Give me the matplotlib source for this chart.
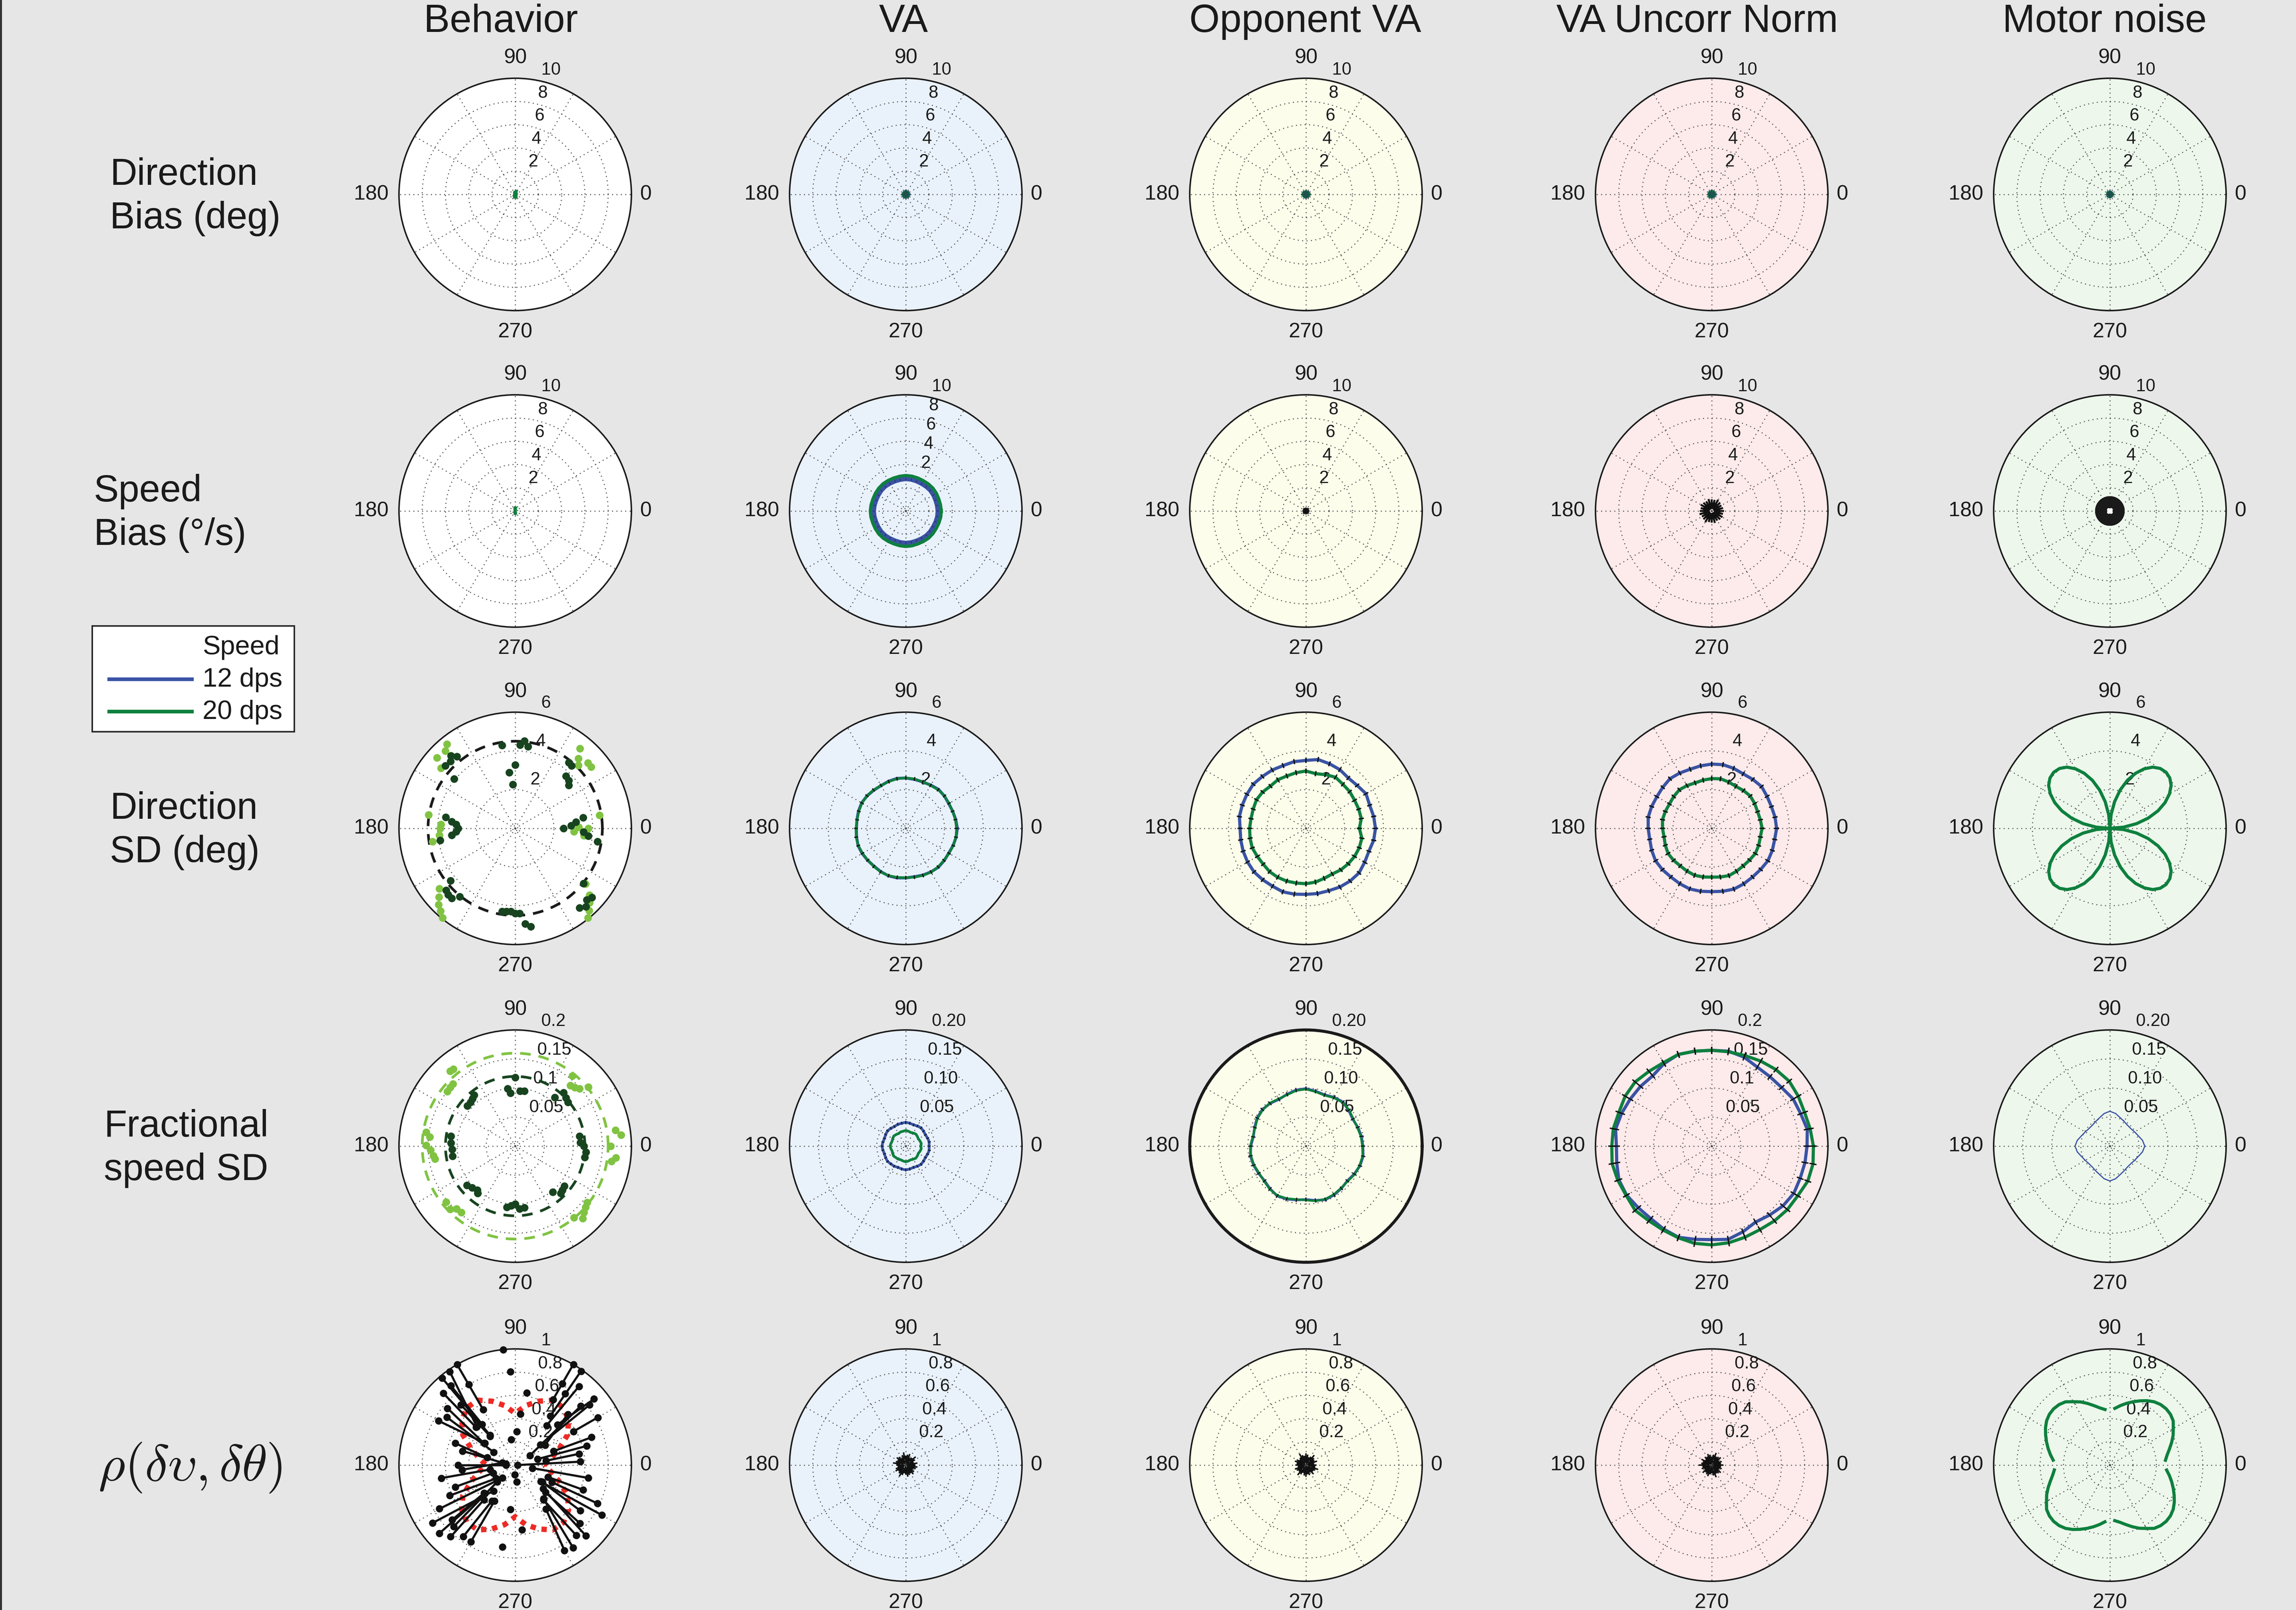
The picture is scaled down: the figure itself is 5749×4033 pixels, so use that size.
import numpy as np
import matplotlib
matplotlib.use('Agg')
import matplotlib.pyplot as plt
from matplotlib.lines import Line2D
from matplotlib.patches import Rectangle

plt.rcParams['font.family'] = ['Liberation Sans', 'DejaVu Sans']
plt.rcParams['mathtext.fontset'] = 'cm'

# ------------------------------------------------------------------ data
columns = ['Behavior', 'VA', 'Opponent VA', 'VA Uncorr Norm', 'Motor noise']
row_labels = ['Direction\nBias (deg)', 'Speed\nBias (°/s)', 'Direction\nSD (deg)',
              'Fractional\nspeed SD', r'$\rho(\delta\upsilon, \delta\theta)$']
angle_labels = ['0', '90', '180', '270']

ANG10 = list(range(0, 360, 10))
ANG8 = [0, 45, 90, 135, 180, 225, 270, 315]
ANG30 = list(range(0, 360, 30))

# Row 1 : direction bias (deg)
beh_dbias_ang = [70, 110, 250, 290]
beh_dbias_r = [0.30, 0.22, 0.28, 0.30]
va_dbias_12 = [0.22, 0.18, 0.25, 0.20, 0.17, 0.21, 0.24, 0.19]
va_dbias_20 = [0.19, 0.23, 0.20, 0.17, 0.22, 0.20, 0.18, 0.23]
opp_dbias_12 = [0.20, 0.24, 0.19, 0.22, 0.18, 0.20, 0.23, 0.17]
opp_dbias_20 = [0.23, 0.18, 0.21, 0.20, 0.24, 0.17, 0.20, 0.22]
unc_dbias_12 = [0.24, 0.20, 0.18, 0.23, 0.20, 0.19, 0.22, 0.21]
unc_dbias_20 = [0.20, 0.22, 0.24, 0.18, 0.21, 0.23, 0.19, 0.20]
mot_dbias_12 = [0.16, 0.18, 0.20, 0.17, 0.15, 0.19, 0.18, 0.16]
mot_dbias_20 = [0.18, 0.15, 0.17, 0.20, 0.18, 0.16, 0.19, 0.17]

# Row 2 : speed bias (deg/s)
beh_sbias_ang = [80, 100, 260, 280]
beh_sbias_r = [0.28, 0.30, 0.25, 0.27]
va_sbias_12 = [2.74, 2.72, 2.71, 2.73, 2.74, 2.72, 2.70, 2.71, 2.73, 2.74, 2.72, 2.71,
               2.72, 2.74, 2.73, 2.71, 2.70, 2.72, 2.74, 2.73, 2.71, 2.72, 2.74, 2.73,
               2.71, 2.70, 2.72, 2.74, 2.73, 2.71, 2.72, 2.74, 2.73, 2.71, 2.72, 2.74]
va_sbias_20 = [3.02, 3.00, 2.99, 3.01, 3.02, 3.00, 2.98, 2.99, 3.01, 3.02, 3.00, 2.99,
               3.00, 3.02, 3.01, 2.99, 2.98, 3.00, 3.02, 3.01, 2.99, 3.00, 3.02, 3.01,
               2.99, 2.98, 3.00, 3.02, 3.01, 2.99, 3.00, 3.02, 3.01, 2.99, 3.00, 3.02]
opp_sbias_12 = [0.10, 0.12, 0.09, 0.11, 0.10, 0.12, 0.09, 0.11]
opp_sbias_20 = [0.12, 0.10, 0.11, 0.09, 0.12, 0.10, 0.11, 0.09]
unc_sbias_12 = [0.65, 0.55, 0.70, 0.60, 0.55, 0.68, 0.62, 0.56, 0.70, 0.60, 0.55, 0.66]
unc_sbias_20 = [0.60, 0.62, 0.58, 0.66, 0.60, 0.57, 0.68, 0.60, 0.58, 0.66, 0.62, 0.59]
unc_sbias_sem = 0.32
mot_sbias_12 = [0.02] * 72
mot_sbias_20_quad = [0, .03, .06, .09, .12, .145, .165, .18, .19, .19, .19, .18,
                     .165, .145, .12, .09, .06, .03]
mot_sbias_sem = 1.15

# Row 3 : direction SD (deg)
beh_dsd_mean = 4.5
beh_dsd_dark_ang = [99, 86.7, 84, 81, 90, 96, 93,
                    131.5, 129, 134, 138, 141,
                    51, 48, 45.7, 41.8, 38.9,
                    171, 174, 176, 180, 183, 186, 189,
                    0, 3, 6, 9, -3, -6, -9,
                    219, 222, 224.6, 227.7, 231,
                    261, 264, 267, 270, 273, 276, 279,
                    321, 318, 315, 312, 309]
beh_dsd_dark_r = [4.34, 4.32, 4.54, 4.27, 3.27, 2.91, 2.27,
                  5.0, 4.78, 4.82, 4.85, 4.06,
                  4.38, 4.36, 3.76, 3.71, 3.55,
                  3.64, 3.30, 3.05, 2.95, 3.05, 3.29, 3.93,
                  2.49, 2.90, 3.15, 3.54, 3.54, 3.79, 4.30,
                  4.29, 4.79, 4.86, 4.87, 4.55,
                  4.35, 4.32, 4.30, 4.39, 4.40, 4.96, 5.14,
                  4.53, 5.32, 5.22, 5.44, 5.27]
beh_dsd_light_ang = [129, 132, 138, 141,
                     51, 48, 45, 42, 39,
                     171, 177, 180, 185, 189,
                     9, 1, 0, -3, -6,
                     218.6, 222, 224.8, 228, 231,
                     321.6, 318, 315, 312, 309]
beh_dsd_light_r = [5.60, 5.38, 5.45, 4.94,
                   5.30, 4.86, 4.60, 5.04, 5.05,
                   4.52, 3.83, 3.87, 3.93, 4.33,
                   4.40, 3.27, 3.77, 3.04, 3.56,
                   5.00, 5.29, 5.58, 5.75, 5.95,
                   4.63, 5.16, 5.42, 5.71, 5.95]
va_dsd_12 = [2.66, 2.62, 2.58, 2.56, 2.60, 2.63, 2.58, 2.55, 2.57, 2.60, 2.62, 2.59,
             2.55, 2.57, 2.61, 2.63, 2.60, 2.56, 2.55, 2.58, 2.62, 2.60, 2.57, 2.55,
             2.58, 2.61, 2.60, 2.56, 2.54, 2.57, 2.60, 2.62, 2.59, 2.56, 2.60, 2.64]
va_dsd_20 = [2.62, 2.60, 2.57, 2.58, 2.61, 2.60, 2.56, 2.56, 2.59, 2.61, 2.60, 2.57,
             2.56, 2.59, 2.62, 2.61, 2.58, 2.55, 2.57, 2.60, 2.61, 2.58, 2.56, 2.57,
             2.60, 2.60, 2.57, 2.55, 2.56, 2.59, 2.61, 2.60, 2.57, 2.58, 2.61, 2.63]
opp_dsd_12 = [3.59, 3.55, 3.50, 3.58, 3.45, 3.40, 3.50, 3.55, 3.61, 3.51, 3.50, 3.45,
              3.48, 3.50, 3.55, 3.52, 3.50, 3.49, 3.40, 3.42, 3.45, 3.48, 3.50, 3.47,
              3.45, 3.49, 3.45, 3.41, 3.42, 3.43, 3.50, 3.55, 3.58, 3.50, 3.46, 3.55]
opp_dsd_20 = [2.76, 2.90, 2.90, 2.90, 2.95, 2.97, 3.05, 2.95, 2.87, 2.96, 2.92, 2.88,
              2.90, 2.85, 2.92, 2.95, 2.90, 2.88, 2.91, 2.93, 2.95, 2.90, 2.88, 2.92,
              2.92, 2.90, 2.87, 2.86, 2.82, 2.75, 2.72, 2.80, 2.85, 2.90, 2.93, 2.93]
unc_dsd_12 = [3.35, 3.32, 3.28, 3.30, 3.36, 3.30, 3.25, 3.30, 3.34, 3.32, 3.28, 3.25,
              3.30, 3.35, 3.30, 3.27, 3.30, 3.33, 3.28, 3.25, 3.30, 3.35, 3.32, 3.28,
              3.30, 3.33, 3.30, 3.27, 3.30, 3.34, 3.31, 3.28, 3.30, 3.35, 3.33, 3.30]
unc_dsd_20 = [2.60, 2.55, 2.52, 2.56, 2.60, 2.55, 2.50, 2.55, 2.60, 2.57, 2.53, 2.50,
              2.55, 2.60, 2.56, 2.52, 2.55, 2.58, 2.54, 2.50, 2.55, 2.60, 2.57, 2.53,
              2.55, 2.58, 2.55, 2.52, 2.55, 2.60, 2.56, 2.53, 2.55, 2.60, 2.58, 2.55]
mot_dsd_quad = [0, .71, 1.40, 2.05, 2.64, 3.14, 3.55, 3.86, 4.04, 4.10, 4.04, 3.86,
                3.55, 3.14, 2.64, 2.05, 1.40, .71]

# Row 4 : fractional speed SD
beh_fsd_dark_mean = 0.12
beh_fsd_light_mean = 0.16
beh_fsd_dark_ang = [90, 97.6, 95, 85, 80.5,
                    51, 48, 43.6, 40,
                    129, 132, 135.5, 140,
                    171, 177, 183, 189,
                    9, 3, 0, -5, -9,
                    219, 224, 229, 231.5,
                    262, 266, 270, 274, 278.5,
                    321, 317, 314, 309.5]
beh_fsd_dark_r = [.118, .0995, .092, .095, .096,
                  .108, .124, .121, .118,
                  .113, .110, .108, .108,
                  .112, .111, .109, .109,
                  .112, .112, .118, .122, .121,
                  .107, .103, .100, .104,
                  .106, .103, .0997, .108, .107,
                  .109, .111, .113, .102]
beh_fsd_light_ang = [131, 128.7, 135, 138, 141,
                     51, 47.7, 44.6, 41.8, 39,
                     171, 174, 179.4, 182.6, 186.6, 189,
                     9, 6, 0, -6.5, -9,
                     219, 224, 227, 231,
                     322, 319, 316, 313, 309.5]
beh_fsd_light_r = [.171, .170, .152, .151, .150,
                   .156, .141, .144, .148, .162,
                   .155, .148, .153, .146, .142, .140,
                   .175, .183, .164, .174, .168,
                   .153, .156, .148, .147,
                   .157, .160, .164, .170, .159]
va_fsd_12 = [.040, .041, .040, .039, .040, .041, .040, .039, .040, .041, .040, .040,
             .039, .040, .041, .040, .039, .040, .041, .040, .039, .040, .041, .040,
             .040, .039, .040, .041, .040, .039, .040, .041, .040, .039, .040, .041]
va_fsd_20 = [.026, .027, .026, .025, .026, .027, .026, .025, .026, .027, .026, .026,
             .025, .026, .027, .026, .025, .026, .027, .026, .025, .026, .027, .026,
             .026, .025, .026, .027, .026, .025, .026, .027, .026, .025, .026, .027]
opp_fsd_12 = [.098, .097, .095, .093, .096, .099, .097, .094, .096, .099, .098, .095,
              .093, .096, .098, .097, .094, .092, .095, .097, .096, .094, .093, .096,
              .099, .097, .094, .092, .095, .098, .097, .095, .093, .096, .099, .100]
opp_fsd_20 = [.097, .096, .094, .094, .097, .098, .096, .093, .095, .098, .097, .094,
              .094, .097, .097, .096, .093, .093, .096, .096, .095, .093, .094, .097,
              .098, .096, .093, .093, .096, .097, .096, .094, .094, .097, .098, .099]
unc_fsd_12 = [.164, .167, .163, .162, .157, .156, .157, .163, .166, .165, .166, .168,
              .164, .158, .160, .162, .165, .168, .164, .166, .170, .169, .165, .163,
              .165, .167, .163, .161, .163, .157, .151, .155, .160, .163, .162, .163]
unc_fsd_20 = [.175, .172, .170, .172, .174, .172, .169, .166, .165, .165, .166, .168,
              .166, .168, .172, .172, .170, .172, .172, .174, .172, .170, .172, .168,
              .167, .168, .170, .170, .169, .167, .166, .168, .170, .171, .176, .177]
mot_fsd_quad = [.060, .057, .052, .049, .047, .047, .049, .052, .057]

# Row 5 : correlation between speed and direction errors
beh_rho_seg_ang1 = [120, 125, 130, 129, 135, 140, 145, 150, 132,
                    60, 55, 51, 40, 30, 39, 42, 44,
                    15, 3, -10, 10, 20, -20,
                    165, 180, 190, 185, 160, 200,
                    215, 222, 210, 240, 225, 234, 221, 205, 228,
                    330, 315, 305, 300, 311, 325, 318, 335]
beh_rho_seg_r1 = [1.0, .98, .98, .878, .875, .761, .718, .763, .70,
                  1.0, .987, .872, .885, .82, .822, .759, .63,
                  .636, .562, .64, .558, .70, .62,
                  .468, .49, .645, .46, .55, .55,
                  .87, .878, .752, .762, .748, .762, .72, .62, .83,
                  .862, .861, .87, .848, .80, .683, .75, .78]
beh_rho_seg_ang2 = [120, 135, 130, 129, 136, 145, 149, 144, 131,
                    60, 54.5, 51.6, 43.7, 30, 39, 33, 34,
                    15, 0, -10, 8, 20, -20,
                    172, 180, 190, 170, 165, 200,
                    230, 223, 225, 240, 223, 237, 222, 215, 228,
                    327, 320, 310, 305, 309, 328, 318, 335]
beh_rho_seg_r2 = [.55, .465, .336, .452, .47, .328, .216, .322, .33,
                  .65, .52, .436, .502, .58, .28, .15, .31,
                  .20, .02, .15, .266, .35, .30,
                  .08, .08, .22, .11, .25, .20,
                  .29, .357, .156, .356, .21, .367, .362, .20, .40,
                  .261, .314, .378, .46, .385, .274, .35, .35]
beh_rho_dot_ang = [120, 60, 55, 96, 93, 81, 84, 87, 99, 268, 275, 264, 276, 261]
beh_rho_dot_r = [.80, .81, .75, 1.0, .806, .63, .443, .29, .222, .082, .144, .383, .559, .713]
beh_rho_pred = [.25, .31, .40, .52, .60, .646, .645, .585, .52, .445, .52, .585, .645, .646,
                .60, .52, .40, .31, .25, .31, .40, .52, .60, .646, .645, .585, .52, .445,
                .52, .585, .645, .646, .60, .52, .40, .31]
va_rho_12 = [.05, .07, .04, .06, .08, .05, .04, .07, .06, .05, .08, .06, .04, .06, .07, .05,
             .06, .08, .05, .04, .06, .07, .05, .06, .08, .06, .04, .05, .07, .06, .05, .07,
             .06, .04, .06, .07]
opp_rho_12 = [.06, .04, .07, .05, .06, .08, .05, .04, .06, .07, .05, .06, .08, .05, .04, .06,
              .07, .05, .06, .04, .07, .06, .05, .08, .06, .04, .06, .07, .05, .06, .04, .07,
              .05, .06, .08, .05]
unc_rho_12 = [.07, .05, .06, .04, .07, .06, .05, .08, .06, .04, .06, .07, .05, .06, .04, .07,
              .05, .06, .08, .05, .06, .04, .07, .05, .06, .07, .05, .04, .06, .08, .05, .06,
              .07, .04, .06, .05]
mot_rho_quad = [.48, .50, .53, .565, .60, .63, .665, .68, .685, .68, .665, .64, .61, .58,
                .55, .52, .49]

# ------------------------------------------------------------------ style
W, H, DPI = 5749, 4033, 300
BG = '#e6e6e6'
BLUE = '#3953a4'
GREEN = '#0e803e'
DARK = '#17441f'
LIGHT = '#80c342'
RED = '#ee2a24'
panel_bg = ['#ffffff', '#e9f1fa', '#fdfdeb', '#fdeaea', '#edf7ec']
col_cx = [1290, 2268, 3270, 4286, 5283]
row_cy = [487, 1280, 2075, 2871, 3670]
RAD = 291
title_x = [1254, 2262, 3268, 4250, 5270]
rowlab_x = [275, 235, 275, 260, 246]

fig = plt.figure(figsize=(W / DPI, H / DPI), dpi=DPI, facecolor=BG)
fig.add_artist(Line2D([0.0004, 0.0004], [0, 1], color='#333333', lw=1.2,
                      transform=fig.transFigure))


def panel(ci, ri, rmax, rings, labels, label_r=None, frame_lw=0.9):
    cx, cy = col_cx[ci], row_cy[ri]
    ax = fig.add_axes([(cx - RAD) / W, 1 - (cy + RAD) / H, 2 * RAD / W, 2 * RAD / H],
                      projection='polar')
    ax.set_facecolor(panel_bg[ci])
    ax.set_ylim(0, rmax)
    ax.set_yticks([rmax * 0.022] + list(rings))
    ax.set_yticklabels([])
    ax.set_xticks(np.deg2rad(np.arange(0, 360, 30)))
    ax.set_xticklabels([])
    ax.grid(True, color='#4a4a4a', linewidth=0.6, linestyle=(0, (1, 3.4)))
    ax.spines['polar'].set_linewidth(frame_lw)
    ax.spines['polar'].set_color('#1a1a1a')
    rinc = rings[1] - rings[0]
    if label_r is None:
        label_r = list(rings) + [rmax]
    for lab, lr in zip(labels, label_r):
        ax.text(np.deg2rad(82), lr + rinc / 20, '  ' + lab, ha='left', va='bottom',
                fontsize=10.5, color='#1a1a1a', clip_on=False)
    ax.text(0.5 + 0.5 * 1.075, 0.5, angle_labels[0], transform=ax.transAxes,
            ha='left', va='center', fontsize=12.5, color='#1a1a1a')
    ax.text(0.5, 0.5 + 0.5 * 1.09, angle_labels[1], transform=ax.transAxes,
            ha='center', va='bottom', fontsize=12.5, color='#1a1a1a')
    ax.text(0.5 - 0.5 * 1.09, 0.5, angle_labels[2], transform=ax.transAxes,
            ha='right', va='center', fontsize=12.5, color='#1a1a1a')
    ax.text(0.5, 0.5 - 0.5 * 1.1, angle_labels[3], transform=ax.transAxes,
            ha='center', va='top', fontsize=12.5, color='#1a1a1a')
    return ax


def curve(ax, ang, r, color, lw, closed=True, zorder=3, **kw):
    a = np.deg2rad(np.asarray(ang, float))
    r = np.asarray(r, float)
    if closed:
        a = np.append(a, a[0])
        r = np.append(r, r[0])
    ax.plot(a, r, color=color, lw=lw, solid_joinstyle='round', zorder=zorder, **kw)


def errticks(ax, ang, r, e, color='#111111', lw=0.7):
    a = np.deg2rad(np.asarray(ang, float))
    r = np.asarray(r, float)
    aa, rr = [], []
    for ai, ri in zip(a, r):
        aa += [ai, ai, np.nan]
        rr += [max(ri - e, 0), ri + e, np.nan]
    ax.plot(aa, rr, color=color, lw=lw, zorder=4)


def dashed_circle(ax, rval, color, lw=1.6):
    a = np.deg2rad(np.arange(0, 361, 2))
    ax.plot(a, np.full(a.shape, rval), color=color, lw=lw, ls=(0, (4, 3)), zorder=3)


def quad4(q, step):
    ang = list(range(0, 360, step))
    return ang, list(q) * 4


# titles and row labels
for t, x in zip(columns, title_x):
    fig.text(x / W, 1 - 80 / H, t, ha='center', va='baseline', fontsize=23.5, color='#1a1a1a')
for i, (lab, x) in enumerate(zip(row_labels, rowlab_x)):
    fs = 31 if i == 4 else 22.5
    fig.text(x / W, 1 - (row_cy[i] + 6) / H, lab, ha='left', va='center', fontsize=fs,
             linespacing=1.3, color='#1a1a1a')

lab10 = ['2', '4', '6', '8', '10']
rings10 = [2, 4, 6, 8]

# ---------------- Row 1
ax = panel(0, 0, 10, rings10, lab10)
curve(ax, beh_dbias_ang, beh_dbias_r, GREEN, 1.4)
for ci, (b, g) in enumerate([(va_dbias_12, va_dbias_20), (opp_dbias_12, opp_dbias_20),
                             (unc_dbias_12, unc_dbias_20), (mot_dbias_12, mot_dbias_20)], 1):
    ax = panel(ci, 0, 10, rings10, lab10)
    curve(ax, ANG8, b, BLUE, 2.2)
    curve(ax, ANG8, g, GREEN, 2.2)
    errticks(ax, ANG8, g, 0.08, color='#1f4f4f', lw=1.0)

# ---------------- Row 2
ax = panel(0, 1, 10, rings10, lab10)
curve(ax, beh_sbias_ang, beh_sbias_r, GREEN, 1.4)

ax = panel(1, 1, 10, rings10, lab10, label_r=[3.33, 5.0, 6.67, 8.33, 10])
curve(ax, ANG10, va_sbias_20, GREEN, 2.4)
curve(ax, ANG10, va_sbias_12, BLUE, 2.4)
errticks(ax, ANG10, va_sbias_12, 0.05, color='#333366', lw=0.6)

ax = panel(2, 1, 10, rings10, lab10)
curve(ax, ANG8, opp_sbias_12, BLUE, 1.5)
curve(ax, ANG8, opp_sbias_20, GREEN, 1.5)
errticks(ax, ANG8, opp_sbias_12, 0.12, color='#111111', lw=1.2)

ax = panel(3, 1, 10, rings10, lab10)
curve(ax, ANG30, unc_sbias_12, BLUE, 1.2)
curve(ax, ANG30, unc_sbias_20, GREEN, 1.2)
errticks(ax, ANG30, unc_sbias_12, unc_sbias_sem, color='#111111', lw=1.2)
errticks(ax, [a + 15 for a in ANG30], unc_sbias_20, unc_sbias_sem, color='#111111', lw=1.2)
curve(ax, ANG30, unc_sbias_12, '#111111', 1.4)

ax = panel(4, 1, 10, rings10, lab10)
ang5 = list(range(0, 360, 5))
errticks(ax, ang5, mot_sbias_12, mot_sbias_sem, color='#1a1a1a', lw=1.4)
m_ang, m_r = quad4(mot_sbias_20_quad, 5)
curve(ax, m_ang, m_r, 'white', 1.4, zorder=6)

# ---------------- Row 3
lab6 = ['2', '4', '6']
ax = panel(0, 2, 6, [2, 4], lab6)
dashed_circle(ax, beh_dsd_mean, '#1a1a1a', lw=1.6)
ax.plot(np.deg2rad(beh_dsd_light_ang), beh_dsd_light_r, 'o', color=LIGHT, ms=4.6, mew=0,
        zorder=4, clip_on=False)
ax.plot(np.deg2rad(beh_dsd_dark_ang), beh_dsd_dark_r, 'o', color=DARK, ms=4.6, mew=0,
        zorder=5, clip_on=False)

ax = panel(1, 2, 6, [2, 4], lab6)
curve(ax, ANG10, va_dsd_12, BLUE, 1.8)
curve(ax, ANG10, va_dsd_20, GREEN, 1.5)
errticks(ax, ANG10, va_dsd_20, 0.07)

ax = panel(2, 2, 6, [2, 4], lab6)
curve(ax, ANG10, opp_dsd_12, BLUE, 1.9)
curve(ax, ANG10, opp_dsd_20, GREEN, 1.9)
errticks(ax, ANG10, opp_dsd_12, 0.1, lw=0.8)
errticks(ax, ANG10, opp_dsd_20, 0.1, lw=0.8)

ax = panel(3, 2, 6, [2, 4], lab6)
curve(ax, ANG10, unc_dsd_12, BLUE, 1.9)
curve(ax, ANG10, unc_dsd_20, GREEN, 1.9)
errticks(ax, ANG10, unc_dsd_12, 0.1, lw=0.8)
errticks(ax, ANG10, unc_dsd_20, 0.1, lw=0.8)

ax = panel(4, 2, 6, [2, 4], lab6)
q_ang, q_r = quad4(mot_dsd_quad, 5)
curve(ax, q_ang, q_r, GREEN, 1.9)

# ---------------- Row 4
rings_f = [0.05, 0.10, 0.15]
lab_f_a = ['0.05', '0.1', '0.15', '0.2']
lab_f_b = ['0.05', '0.10', '0.15', '0.20']
ax = panel(0, 3, 0.2, rings_f, lab_f_a)
dashed_circle(ax, beh_fsd_light_mean, LIGHT, lw=1.6)
dashed_circle(ax, beh_fsd_dark_mean, DARK, lw=1.6)
ax.plot(np.deg2rad(beh_fsd_light_ang), beh_fsd_light_r, 'o', color=LIGHT, ms=4.6, mew=0,
        zorder=4, clip_on=False)
ax.plot(np.deg2rad(beh_fsd_dark_ang), beh_fsd_dark_r, 'o', color=DARK, ms=4.6, mew=0,
        zorder=5, clip_on=False)

ax = panel(1, 3, 0.2, rings_f, lab_f_b)
curve(ax, ANG10, va_fsd_12, BLUE, 1.6)
curve(ax, ANG10, va_fsd_20, GREEN, 1.6)
errticks(ax, ANG10, va_fsd_12, 0.002, lw=0.5)

ax = panel(2, 3, 0.2, rings_f, lab_f_b, frame_lw=1.8)
curve(ax, ANG10, opp_fsd_12, BLUE, 1.6)
curve(ax, ANG10, opp_fsd_20, GREEN, 1.3)
errticks(ax, ANG10, opp_fsd_12, 0.003, lw=0.6)

ax = panel(3, 3, 0.2, rings_f, lab_f_a)
curve(ax, ANG10, unc_fsd_12, BLUE, 1.9)
curve(ax, ANG10, unc_fsd_20, GREEN, 1.9)
errticks(ax, ANG10, unc_fsd_12, 0.005, lw=0.8)
errticks(ax, ANG10, unc_fsd_20, 0.005, lw=0.8)

ax = panel(4, 3, 0.2, rings_f, lab_f_b)
f_ang, f_r = quad4(mot_fsd_quad, 10)
curve(ax, f_ang, f_r, BLUE, 0.7)

# ---------------- Row 5
rings_r = [0.2, 0.4, 0.6, 0.8]
lab_r = ['0.2', '0.4', '0.6', '0.8', '1']
ax = panel(0, 4, 1, rings_r, lab_r)
for a1, r1, a2, r2 in zip(beh_rho_seg_ang1, beh_rho_seg_r1, beh_rho_seg_ang2, beh_rho_seg_r2):
    ax.plot(np.deg2rad([a1, a2]), [r1, r2], color='#111111', lw=1.3, marker='o', ms=3.4,
            zorder=4, clip_on=False)
ax.plot(np.deg2rad(beh_rho_dot_ang), beh_rho_dot_r, 'o', color='#111111', ms=3.4,
        zorder=4, clip_on=False)
curve(ax, ANG10, beh_rho_pred, RED, 3.2, dashes=(1.0, 1.1))

for ci, vals in [(1, va_rho_12), (2, opp_rho_12), (3, unc_rho_12)]:
    ax = panel(ci, 4, 1, rings_r, lab_r)
    curve(ax, ANG10, vals, '#111111', 1.1)
    errticks(ax, ANG10, vals, 0.025, lw=0.9)

ax = panel(4, 4, 1, rings_r, lab_r)
for q in range(4):
    qa = [q * 90 + a for a in range(5, 90, 5)]
    curve(ax, qa, mot_rho_quad, GREEN, 1.9, closed=False)

# ---------------- legend
lx0, ly0, lx1, ly1 = 231, 1568, 737, 1833
fig.add_artist(Rectangle((lx0 / W, 1 - ly1 / H), (lx1 - lx0) / W, (ly1 - ly0) / H,
                         transform=fig.transFigure, facecolor='white',
                         edgecolor='#222222', lw=0.9))
fig.text(507 / W, 1 - 1622 / H, 'Speed', ha='left', va='center', fontsize=16, color='#1a1a1a')
for yy, col, txt in [(1701, BLUE, '12 dps'), (1782, GREEN, '20 dps')]:
    fig.add_artist(Line2D([273 / W, 480 / W], [1 - yy / H, 1 - yy / H], color=col, lw=2.2,
                          transform=fig.transFigure))
    fig.text(507 / W, 1 - (yy + 2) / H, txt, ha='left', va='center', fontsize=16,
             color='#1a1a1a')

fig.savefig('out.png', dpi=DPI, facecolor=BG)
